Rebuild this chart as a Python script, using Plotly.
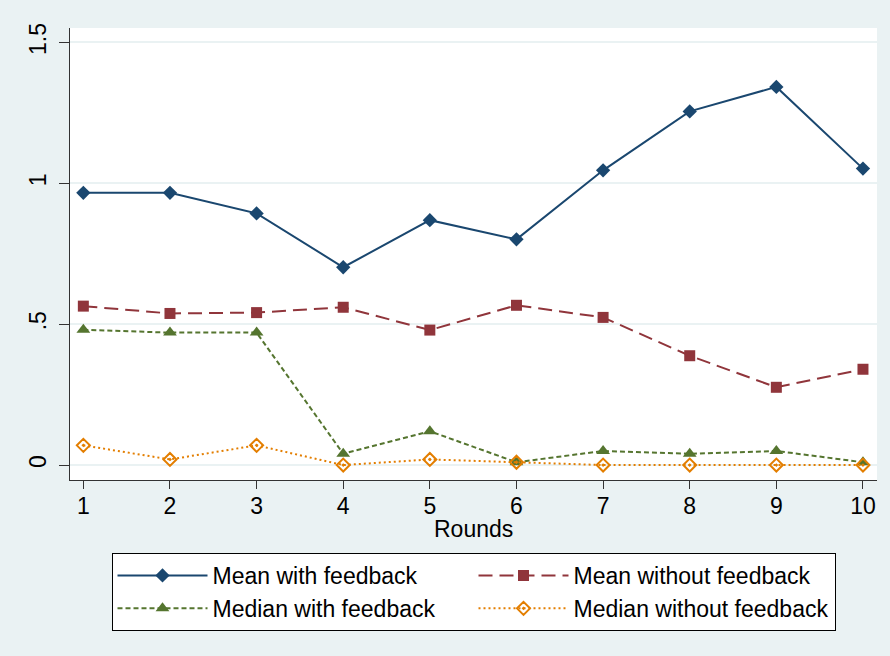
import plotly.graph_objects as go

# Average and median values per round, split by treatment
rounds = [1, 2, 3, 4, 5, 6, 7, 8, 9, 10]
mean_with_feedback = [0.966, 0.966, 0.893, 0.702, 0.869, 0.801, 1.046, 1.255, 1.342, 1.052]
mean_without_feedback = [0.564, 0.538, 0.541, 0.560, 0.479, 0.567, 0.524, 0.388, 0.276, 0.340]
median_with_feedback = [0.48, 0.47, 0.47, 0.04, 0.12, 0.01, 0.05, 0.04, 0.05, 0.01]
median_without_feedback = [0.07, 0.02, 0.07, 0.0, 0.02, 0.01, 0.0, 0.0, 0.0, 0.0]

y_ticks = [0, 0.5, 1, 1.5]
y_tick_labels = ["0", ".5", "1", "1.5"]

BG = "#EAF2F3"
FONT = "Liberation Sans, Arial, sans-serif"

series = [
    ("Mean with feedback", mean_with_feedback, "#1A476F", "solid", "diamond", 11),
    ("Mean without feedback", mean_without_feedback, "#90353B", "14px,7px", "square", 11),
    ("Median with feedback", median_with_feedback, "#55752F", "5px,3px", "triangle-up", 12),
    ("Median without feedback", median_without_feedback, "#E37E00", "2px,3px", "diamond-open-dot", 10),
]

fig = go.Figure()
for name, vals, color, dash, symbol, size in series:
    fig.add_trace(go.Scatter(
        x=rounds, y=vals, name=name, mode="lines+markers",
        line=dict(color=color, width=2, dash=dash),
        marker=dict(symbol=symbol, size=size, color=color,
                    line=dict(color=color, width=2 if "open" in symbol else 0)),
    ))

fig.update_layout(
    width=890, height=656,
    margin=dict(l=70, r=13, t=28, b=176, autoexpand=False),
    paper_bgcolor=BG, plot_bgcolor="white",
    font=dict(family=FONT, size=23, color="black"),
    showlegend=True,
    legend=dict(
        orientation="h", x=0.5, xanchor="center", y=-0.1615, yanchor="top",
        bgcolor="white", bordercolor="black", borderwidth=1,
        font=dict(family=FONT, size=23, color="black"),
        itemwidth=90, entrywidth=256, entrywidthmode="pixels",
        tracegroupgap=0,
    ),
    annotations=[dict(
        text="Rounds", xref="paper", yref="paper", x=0.5, y=-0.109,
        xanchor="center", yanchor="middle", showarrow=False,
        font=dict(family=FONT, size=23, color="black"),
    )],
)

fig.update_xaxes(
    range=[0.846, 10.162], tickvals=rounds, ticks="outside", ticklen=8,
    tickcolor="#333333", tickwidth=1, showgrid=False, zeroline=False,
    showline=True, linecolor="#333333", linewidth=1, automargin=False,
    ticklabelstandoff=-3, tickfont=dict(size=23),
)
fig.update_yaxes(
    range=[-0.053, 1.551], tickvals=y_ticks, ticktext=y_tick_labels,
    tickangle=-90, ticks="outside", ticklen=10, tickcolor="#333333", tickwidth=1,
    ticklabelstandoff=4,
    showgrid=True, gridcolor=BG, gridwidth=2, zeroline=False, automargin=False,
    showline=True, linecolor="#333333", linewidth=1, tickfont=dict(size=23),
)

fig.write_html("out.html")
